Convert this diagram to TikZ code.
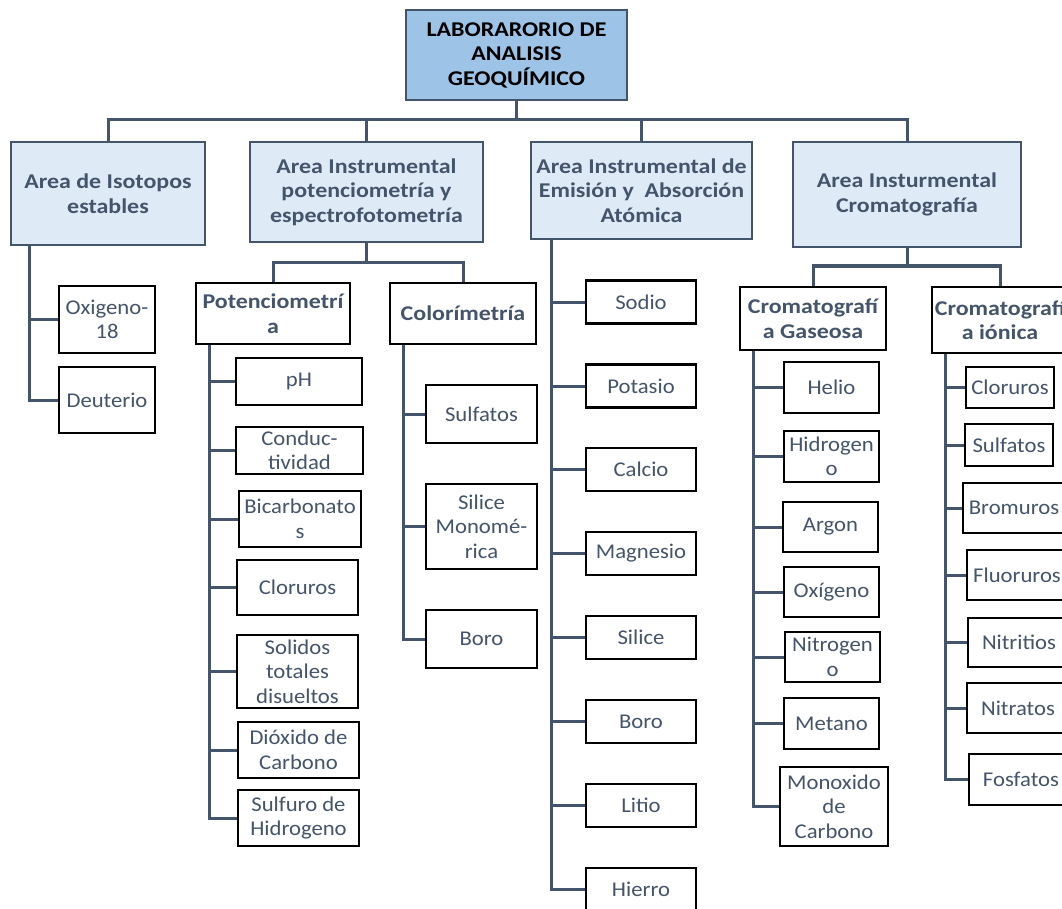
\documentclass[tikz,border=0pt]{standalone}
\usepackage{fontspec}
\setmainfont{Carlito}[FakeStretch=1.08, BoldFeatures={FakeStretch=1.14}]
\definecolor{slate}{HTML}{44546A}
\definecolor{rootblue}{HTML}{9DC3E6}
\definecolor{paleblue}{HTML}{DEEBF7}
\begin{document}
\begin{tikzpicture}[x=1pt,y=-1pt,
  every node/.style={inner sep=0pt, align=center, font=\fontsize{21}{24.5}\selectfont},
  rootbox/.style={draw=slate, line width=2.5pt, fill=rootblue, text=black, font=\fontsize{21}{24.5}\selectfont\bfseries},
  areabox/.style={draw=slate, line width=2.5pt, fill=paleblue, text=slate, font=\fontsize{21}{24.5}\selectfont\bfseries},
  subbox/.style={draw=black, line width=2.5pt, fill=white, text=slate, font=\fontsize{21}{24.5}\selectfont\bfseries},
  leaf/.style={draw=black, line width=2.5pt, fill=white, text=slate},
  conn/.style={draw=slate, line width=3pt}]
\useasboundingbox (0,0) rectangle (1062,909);
\clip (0,0) rectangle (1062,909);

% bus levels
\coordinate (bus) at (0,120);
\coordinate (potbus) at (0,263);
\coordinate (crobus) at (0,266);

% top level
\node[rootbox, minimum width=221, minimum height=90] (root) at (516.5,55) {LABORARORIO DE\\ANALISIS\\GEOQUÍMICO};

% areas
\node[areabox, minimum width=194, minimum height=103] (iso) at (108,193.5) {Area de Isotopos\\estables};
\node[areabox, minimum width=233, minimum height=100] (pot) at (366.5,192) {Area Instrumental\\potenciometría y\\espectrofotometría};
\node[areabox, minimum width=221, minimum height=97] (emi) at (641.5,190.5) {Area Instrumental de\\Emisión y\ \ Absorción\\Atómica};
\node[areabox, minimum width=228, minimum height=105] (cro) at (907,194.5) {Area Insturmental\\Cromatografía};

% isotopes
\node[leaf, minimum width=96, minimum height=67] (oxi) at (107,319.5) {Oxigeno-\\18};
\node[leaf, minimum width=96, minimum height=66] (deu) at (107,400) {Deuterio};

% potentiometry / colorimetry
\node[subbox, minimum width=154, minimum height=61] (pmt) at (273,313.5) {Potenciometrí\\a};
\node[subbox, minimum width=146, minimum height=61] (col) at (463,313.5) {Colorímetría};

\node[leaf, minimum width=126, minimum height=47] (ph) at (299,381.5) {pH};
\node[leaf, minimum width=127, minimum height=47] (con) at (299.5,450.5) {Conduc-\\tividad};
\node[leaf, minimum width=122, minimum height=56] (bic) at (300,519) {Bicarbonato\\s};
\node[leaf, minimum width=121, minimum height=55] (clo) at (297.5,587.5) {Cloruros};
\node[leaf, minimum width=121, minimum height=73] (sol) at (297.5,671.5) {Solidos\\totales\\disueltos};
\node[leaf, minimum width=121, minimum height=56] (dio) at (298.5,750) {Dióxido de\\Carbono};
\node[leaf, minimum width=121, minimum height=56] (sul) at (298.5,818) {Sulfuro de\\Hidrogeno};

\node[leaf, minimum width=111, minimum height=58] (sfa) at (481.5,414) {Sulfatos};
\node[leaf, minimum width=111, minimum height=85] (sil) at (481.5,526.5) {Silice\\Monomé-\\rica};
\node[leaf, minimum width=111, minimum height=58] (bor) at (481.5,639) {Boro};

% emission / absorption
\node[leaf, minimum width=110, minimum height=43] (sod) at (641,302) {Sodio};
\node[leaf, minimum width=110, minimum height=43] (pta) at (641,386) {Potasio};
\node[leaf, minimum width=110, minimum height=43] (cal) at (641,469.5) {Calcio};
\node[leaf, minimum width=110, minimum height=43] (mag) at (641,553.5) {Magnesio};
\node[leaf, minimum width=110, minimum height=43] (sli) at (641,637.5) {Silice};
\node[leaf, minimum width=110, minimum height=43] (bo2) at (641,721.5) {Boro};
\node[leaf, minimum width=110, minimum height=43] (lit) at (641,805.5) {Litio};
\node[leaf, minimum width=110, minimum height=43] (hie) at (641,889.5) {Hierro};

% chromatography
\node[subbox, minimum width=146, minimum height=63] (gas) at (813,318.5) {Cromatografí\\a Gaseosa};
\node[subbox, minimum width=136, minimum height=66] (ion) at (1000,320) {Cromatografí\\a iónica};

\node[leaf, minimum width=95, minimum height=51] (hel) at (831.5,387.5) {Helio};
\node[leaf, minimum width=95, minimum height=51] (hid) at (831.5,456.5) {Hidrogen\\o};
\node[leaf, minimum width=95, minimum height=50] (arg) at (830.5,527) {Argon};
\node[leaf, minimum width=95, minimum height=50] (oxg) at (831.5,592) {Oxígeno};
\node[leaf, minimum width=95, minimum height=50] (nit) at (832.5,657) {Nitrogen\\o};
\node[leaf, minimum width=95, minimum height=51] (met) at (831.5,723.5) {Metano};
\node[leaf, minimum width=108, minimum height=79] (mon) at (834,806.5) {Monoxido\\de\\Carbono};

\node[leaf, minimum width=88, minimum height=41] (cli) at (1010,387.5) {Cloruros};
\node[leaf, minimum width=88, minimum height=42] (sui) at (1009,445) {Sulfatos};
\node[leaf, minimum width=102, minimum height=50] (bri) at (1014,508) {Bromuros};
\node[leaf, minimum width=100, minimum height=50] (fli) at (1017,575) {Fluoruros};
\node[leaf, minimum width=102, minimum height=49] (nii) at (1019,642.5) {Nitritios};
\node[leaf, minimum width=102, minimum height=50] (nai) at (1018,708) {Nitratos};
\node[leaf, minimum width=104, minimum height=51] (foi) at (1021,779.5) {Fosfatos};

% connectors: root to areas
\draw[conn] (root.south) -- (root.south |- bus);
\draw[conn] (iso.north) -- (iso.north |- bus) -- (cro.north |- bus) -- (cro.north);
\draw[conn] (pot.north) -- (pot.north |- bus);
\draw[conn] (emi.north) -- (emi.north |- bus);

% isotopes
\draw[conn] ([xshift=20pt]iso.south west) |- (oxi.west);
\draw[conn] ([xshift=20pt]iso.south west) |- (deu.west);

% potentiometry branch
\draw[conn] (pot.south) -- (pot.south |- potbus);
\draw[conn] (pmt.north) -- (pmt.north |- potbus) -- (col.north |- potbus) -- (col.north);
\foreach \n in {ph,con,bic,clo,sol,dio,sul}
  \draw[conn] ([xshift=15pt]pmt.south west) |- (\n.west);
\foreach \n in {sfa,sil,bor}
  \draw[conn] ([xshift=15pt]col.south west) |- (\n.west);

% emission branch
\foreach \n in {sod,pta,cal,mag,sli,bo2,lit,hie}
  \draw[conn] ([xshift=22pt]emi.south west) |- (\n.west);

% chromatography branch
\draw[conn] (cro.south) -- (cro.south |- crobus);
\draw[conn] (gas.north) -- (gas.north |- crobus) -- (ion.north |- crobus) -- (ion.north);
\foreach \n in {hel,hid,arg,oxg,nit,met,mon}
  \draw[conn] ([xshift=15pt]gas.south west) |- (\n.west);
\foreach \n in {cli,sui,bri,fli,nii,nai,foi}
  \draw[conn] ([xshift=15pt]ion.south west) |- (\n.west);
\end{tikzpicture}
\end{document}
